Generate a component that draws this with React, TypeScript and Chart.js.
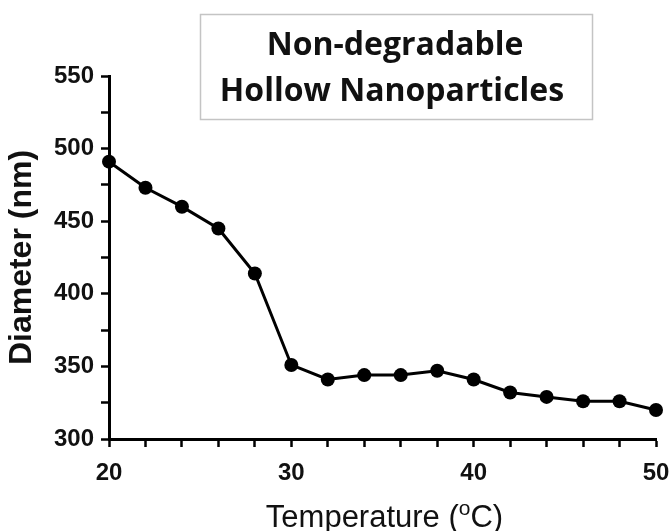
import React, { useEffect, useRef } from "react";
import { Chart, registerables } from "chart.js";

Chart.register(...registerables);

const temperatures = [20, 22, 24, 26, 28, 30, 32, 34, 36, 38, 40, 42, 44, 46, 48, 50];
const diameters = [491, 473, 460, 445, 414, 351, 341, 344, 344, 347, 341, 332, 329, 326, 326, 320];
const titleLines = ["Non-degradable", "Hollow Nanoparticles"];
const yTitle = "Diameter (nm)";
const xTitleParts = ["Temperature (", "o", "C)"];

const TICK_FONT = { family: "'Liberation Sans', Arial, sans-serif", size: 24, weight: "bold" as const };

const overlayPlugin = {
  id: "overlay",
  afterDraw(chart: any) {
    const ctx = chart.ctx;
    const ca = chart.chartArea;
    ctx.save();
    // title box
    ctx.strokeStyle = "#c4c4c4";
    ctx.lineWidth = 1.5;
    ctx.strokeRect(200.5, 14.5, 392, 105);
    ctx.fillStyle = "#111";
    ctx.font = "bold 32px 'Open Sans', sans-serif";
    ctx.textAlign = "center";
    ctx.textBaseline = "alphabetic";
    ctx.fillText(titleLines[0], 395, 55);
    ctx.fillText(titleLines[1], 392, 101);
    // x title with superscript o
    const mainFont = "31px 'Liberation Sans', Arial, sans-serif";
    const supFont = "21px 'Liberation Sans', Arial, sans-serif";
    ctx.font = mainFont;
    const w0 = ctx.measureText(xTitleParts[0]).width;
    const w2 = ctx.measureText(xTitleParts[2]).width;
    ctx.font = supFont;
    const w1 = ctx.measureText(xTitleParts[1]).width;
    const total = w0 + w1 + w2;
    const cx = (ca.left + ca.right) / 2 + 2;
    const baseY = ca.bottom + 88;
    let x = cx - total / 2;
    ctx.textAlign = "left";
    ctx.fillStyle = "#111";
    ctx.font = mainFont;
    ctx.fillText(xTitleParts[0], x, baseY);
    x += w0;
    ctx.font = supFont;
    ctx.fillText(xTitleParts[1], x, baseY - 12);
    x += w1;
    ctx.font = mainFont;
    ctx.fillText(xTitleParts[2], x, baseY);
    ctx.restore();
  },
};

export default function App() {
  const ref = useRef<HTMLCanvasElement | null>(null);
  useEffect(() => {
    if (!ref.current) return;
    const chart = new Chart(ref.current, {
      type: "line",
      data: {
        datasets: [
          {
            data: temperatures.map((t, i) => ({ x: t, y: diameters[i] })),
            borderColor: "#000",
            backgroundColor: "#000",
            borderWidth: 3,
            pointRadius: 7,
            pointBorderWidth: 0,
            pointBackgroundColor: "#000",
            tension: 0,
            clip: false as any,
          },
        ],
      },
      options: {
        animation: false,
        responsive: false,
        maintainAspectRatio: false,
        layout: { padding: { top: 76, right: 16, left: 0, bottom: 0 } },
        plugins: { legend: { display: false }, tooltip: { enabled: false }, title: { display: false } },
        scales: {
          x: {
            type: "linear",
            min: 20,
            max: 50,
            afterFit: (s: any) => {
              s.height = 92;
              s.paddingRight = 0;
              s.paddingLeft = 0;
            },
            border: { display: true, width: 3, color: "#000" },
            grid: { drawOnChartArea: false, drawTicks: true, tickLength: 8, tickColor: "#000", tickWidth: 2.5 },
            ticks: {
              stepSize: 2,
              autoSkip: false,
              maxRotation: 0,
              padding: 12,
              color: "#111",
              font: TICK_FONT,
              callback: (v: any) => (Number(v) % 10 === 0 ? String(v) : ""),
            },
          },
          y: {
            type: "linear",
            min: 300,
            max: 550,
            afterFit: (s: any) => {
              s.width = 109;
              s.paddingTop = 0;
              s.paddingBottom = 0;
            },
            border: { display: true, width: 3, color: "#000" },
            grid: { drawOnChartArea: false, drawTicks: true, tickLength: 8, tickColor: "#000", tickWidth: 2.5 },
            ticks: {
              stepSize: 25,
              autoSkip: false,
              padding: 7,
              color: "#111",
              font: TICK_FONT,
              callback: (v: any) => (Number(v) % 50 === 0 ? String(v) : ""),
            },
            title: {
              display: true,
              text: yTitle,
              color: "#111",
              padding: { top: 3, bottom: 0 },
              font: { family: "'Liberation Sans', Arial, sans-serif", size: 32, weight: "bold", lineHeight: 1.2 },
            },
          },
        },
      },
      plugins: [overlayPlugin],
    });
    return () => chart.destroy();
  }, []);
  return (
    <div style={{ position: "fixed", left: 0, top: 0, width: 672, height: 531, background: "#fff" }}>
      <canvas ref={ref} width={672} height={531} style={{ display: "block" }} />
    </div>
  );
}
